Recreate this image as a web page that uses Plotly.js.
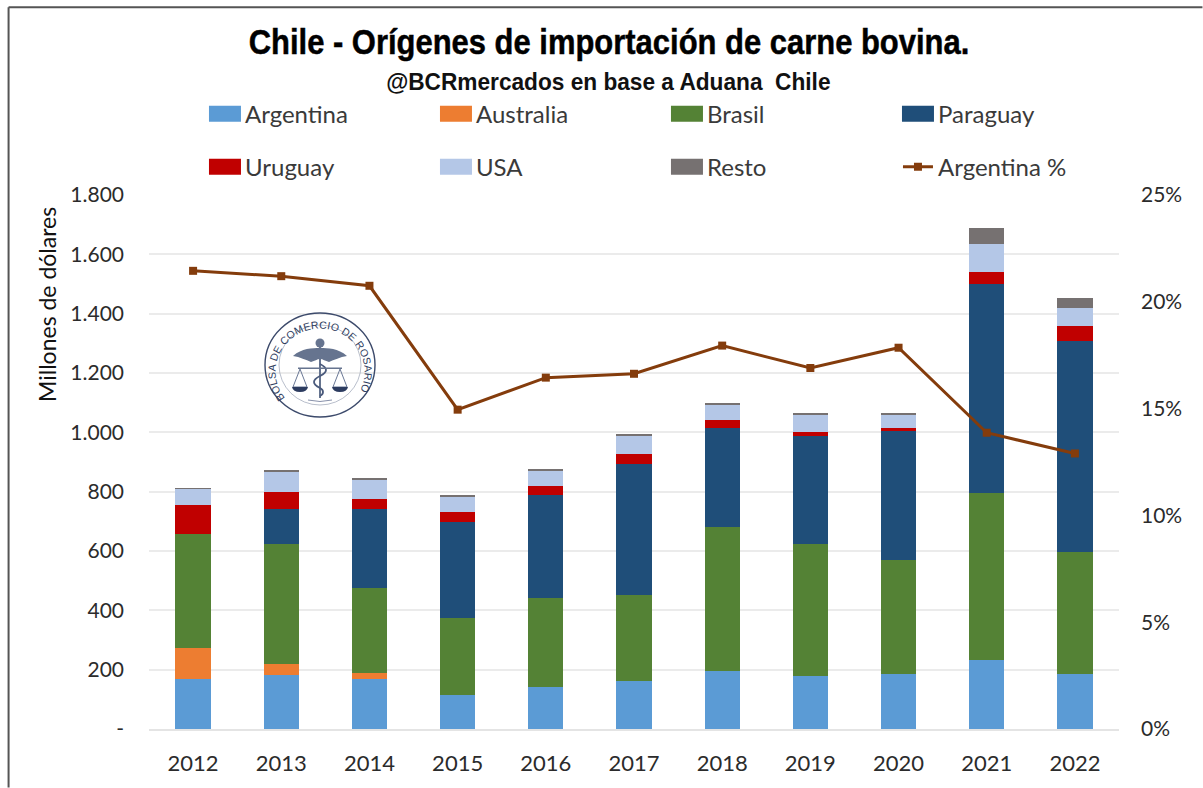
<!DOCTYPE html>
<html lang="es">
<head>
<meta charset="utf-8">
<script src="https://cdn.plot.ly/plotly-3.0.1.min.js"></script>
<style>
html,body{margin:0;padding:0;background:#fff;overflow:hidden}
#wrap{position:relative;width:1203px;height:788px}
#chart{position:absolute;left:0;top:0;width:1203px;height:788px}
#seal{position:absolute;left:262px;top:310px;width:116px;height:110px;pointer-events:none}
</style>
</head>
<body>
<div id="wrap">
<div id="chart"></div>
<svg id="seal" viewBox="0 0 116 110" role="img" aria-label="Bolsa de Comercio de Rosario">
  <defs><path id="arc" d="M23,88 A44.5,43 0 1 1 94,87"/></defs>
  <ellipse cx="58" cy="55" rx="55" ry="52" fill="none" stroke="#3c4a6b" stroke-width="1.4"/>
  <ellipse cx="58" cy="55" rx="41" ry="40" fill="none" stroke="#9aa2b4" stroke-width="0.7"/>
  <text font-family="Liberation Sans" font-size="10.5" fill="#2f3d60" letter-spacing="0.15">
    <textPath href="#arc" startOffset="0">BOLSA DE COMERCIO DE ROSARIO</textPath>
  </text>
  <g fill="#66748f" stroke="none">
    <path d="M58,38 C50,38 40,38 31,46 C38,47 44,50 49,52 C53,51 55,49 58,49 C61,49 63,51 67,52 C72,50 78,47 85,46 C76,38 66,38 58,38Z"/>
    <circle cx="58" cy="33" r="4.5"/>
    <rect x="57" y="33" width="2" height="55"/>
    <path d="M58,54 C66,58 66,62 58,66 C50,70 50,74 58,78 C62,80 62,84 58,86" fill="none" stroke="#4a5a7c" stroke-width="1.8"/>
    <path d="M36,57.5 H80 V59 H36Z"/>
    <path d="M38,59 L31,77 H45Z" fill="none" stroke="#5a6a8a" stroke-width="0.9"/>
    <path d="M78,59 L71,77 H85Z" fill="none" stroke="#5a6a8a" stroke-width="0.9"/>
    <path d="M30,77 H46 Q45,82 38,82 Q31,82 30,77Z" fill="#2d3c60"/>
    <path d="M70,77 H86 Q85,82 78,82 Q71,82 70,77Z" fill="#2d3c60"/>
    <path d="M46,90 Q58,93 70,90" fill="none" stroke="#7a85a0" stroke-width="0.9"/>
  </g>
</svg>
</div>
<script>
const years = ['2012','2013','2014','2015','2016','2017','2018','2019','2020','2021','2022'];
const argentina = [169,182,169,116,140,163,195,177,185,231,185];
const australia = [104,36,21,0,0,0,0,0,0,0,0];
const brasil = [384,407,285,257,302,289,487,445,383,565,411];
const paraguay = [0,116,266,326,348,442,331,365,439,704,713];
const uruguay = [97,58,35,33,29,34,27,13,6,40,50];
const usa = [55,69,64,49,49,61,55,60,47,95,61];
const resto = [2,3,4,8,9,4,5,6,6,53,34];
const argentinaPct = [0.2145,0.212,0.2075,0.1495,0.1645,0.1663,0.1795,0.169,0.1785,0.1387,0.129];
const leftTickVals = [0,200,400,600,800,1000,1200,1400,1600,1800];
const leftTickText = ['-','200','400','600','800','1.000','1.200','1.400','1.600','1.800'];
const rightTickVals = [0,0.05,0.10,0.15,0.20,0.25];

const W = 1203, H = 788, L = 149, R = 1119.5, T = 195, B = 729.5;
const px = x => (x - L) / (R - L);
const py = y => (B - y) / (B - T);
const textCol = '#2b2b2b';
const uiFont = 'Lato, "Open Sans", sans-serif';
const headFont = '"Liberation Sans", Arial, sans-serif';

function bar(name, y, color, legend) {
  return {type:'bar', name, x:years, y, legend, marker:{color, line:{width:0}}, hovertemplate:'%{x}: %{y}<extra>'+name+'</extra>'};
}
const traces = [
  bar('Argentina', argentina, '#5b9bd5', 'legend'),
  bar('Australia', australia, '#ed7d31', 'legend'),
  bar('Brasil', brasil, '#548235', 'legend'),
  bar('Paraguay', paraguay, '#1f4e79', 'legend'),
  bar('Uruguay', uruguay, '#c00000', 'legend2'),
  bar('USA', usa, '#b4c7e7', 'legend2'),
  bar('Resto', resto, '#767171', 'legend2'),
  {type:'scatter', mode:'lines+markers', name:'Argentina %', x:years, y:argentinaPct, yaxis:'y2', legend:'legend2',
   line:{color:'#843c0c', width:3}, marker:{color:'#843c0c', symbol:'square', size:8}}
];
const legendBase = {orientation:'h', xanchor:'left', yanchor:'middle', x:px(205), entrywidth:186, entrywidthmode:'pixels',
  font:{family:uiFont, size:24, color:'#3a3a3a'}, bgcolor:'rgba(0,0,0,0)', borderwidth:0, traceorder:'normal', itemclick:false, itemdoubleclick:false};

const layout = {
  width:W, height:H,
  paper_bgcolor:'#fff', plot_bgcolor:'rgba(0,0,0,0)',
  margin:{l:L, r:W-R, t:T, b:H-B, pad:0, autoexpand:false},
  barmode:'stack', bargap:0.6,
  font:{family:uiFont, color:textCol},
  title:{text:'<b>Chile - Orígenes de importación de carne bovina.</b>', x:609/W, xanchor:'center', y:1-41/H, yanchor:'middle',
    font:{family:headFont, size:36, color:'#000'}},
  xaxis:{type:'category', range:[-0.5,10.5], showgrid:false, zeroline:false, showline:true, linecolor:'#e4e4e4', linewidth:2,
    ticks:'', ticklabelstandoff:14, tickfont:{family:uiFont, size:22, color:textCol}},
  yaxis:{range:[0,1800], tickmode:'array', tickvals:leftTickVals, ticktext:leftTickText, gridcolor:'#ebebeb', gridwidth:2, zeroline:false, showline:false,
    ticks:'', ticklabelstandoff:24, tickfont:{family:uiFont, size:21, color:textCol}},
  yaxis2:{overlaying:'y', side:'right', range:[0,0.25], tickmode:'array', tickvals:rightTickVals, tickformat:'.0%', showgrid:false, zeroline:false, showline:false,
    ticks:'', ticklabelstandoff:21, tickfont:{family:uiFont, size:21, color:textCol}},
  legend:Object.assign({}, legendBase, {y:py(114)}),
  legend2:Object.assign({}, legendBase, {y:py(167)}),
  annotations:[
    {text:'<b>@BCRmercados en base a Aduana\u00A0 Chile</b>', xref:'paper', yref:'paper', x:px(609), y:py(81), xanchor:'center', yanchor:'middle', showarrow:false,
     font:{family:headFont, size:24, color:'#111'}},
    {text:'Millones de dólares', xref:'paper', yref:'paper', x:px(47), y:py(305), textangle:-90, xanchor:'center', yanchor:'middle', showarrow:false,
     font:{family:uiFont, size:23, color:'#111'}}
  ],
  shapes:[
    {type:'line', xref:'paper', yref:'paper', x0:px(8.5), x1:px(8.5), y0:py(7), y1:py(788), line:{color:'#555', width:2}},
    {type:'line', xref:'paper', yref:'paper', x0:px(8.5), x1:px(1203), y0:py(7), y1:py(7), line:{color:'#555', width:2}}
  ],
  showlegend:true
};

function squeeze(el, factor) {
  if (!el) return;
  el.removeAttribute('transform');
  const box = el.getBBox();
  const cx = box.x + box.width / 2;
  el.setAttribute('transform', `translate(${cx},0) scale(${factor},1) translate(${-cx},0)`);
}
function polish(gd) {
  gd.querySelectorAll('.legendpoints path').forEach(p => {
    if ((p.getAttribute('d') || '').startsWith('M6,6')) p.setAttribute('d', 'M-16,8H16V-8H-16Z');
  });
  const title = gd.querySelector('.gtitle');
  squeeze(title, 0.86);
  if (title) { title.style.stroke = '#000'; title.style.strokeWidth = '0.5px'; }
  const sub = gd.querySelector('.annotation-text-g .annotation-text, .annotation text');
  squeeze(sub, 0.945);
}
Plotly.newPlot('chart', traces, layout, {displayModeBar:false, responsive:false}).then(gd => {
  polish(gd);
  requestAnimationFrame(() => polish(gd));
  setTimeout(() => polish(gd), 50);
});
</script>
</body>
</html>
